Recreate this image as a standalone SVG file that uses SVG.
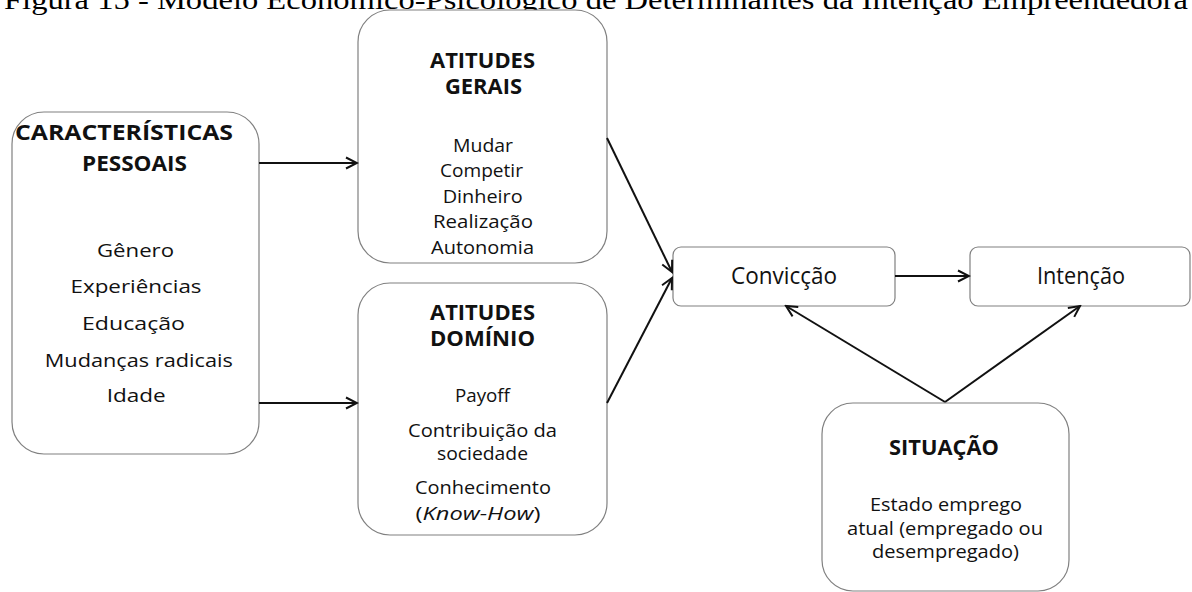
<svg xmlns="http://www.w3.org/2000/svg" width="1192" height="592" viewBox="0 0 1192 592">
  <defs>
    <style>
      .box { fill: #ffffff; stroke: #808080; stroke-width: 1.2; }
      .t { font-family: "Open Sans", "Liberation Sans", sans-serif; fill: #111111; text-anchor: middle; }
      .h { font-weight: bold; font-size: 20.5px; }
      .i { font-size: 19px; }
      .m { font-size: 23px; }
      .edge { stroke: #111111; stroke-width: 2; fill: none; marker-end: url(#arr); }
      .title { font-family: "Liberation Serif", "Times New Roman", serif; font-size: 27px; fill: #000; }
    </style>
    <marker id="arr" markerUnits="userSpaceOnUse" markerWidth="14" markerHeight="14" viewBox="0 0 14 14" refX="12" refY="7" orient="auto">
      <path d="M1,1.5 L12,7 L1,12.5" fill="none" stroke="#111111" stroke-width="2"/>
    </marker>
  </defs>
  <rect width="1192" height="592" fill="#ffffff"/>

  <text class="title" x="4" y="9" textLength="1184" lengthAdjust="spacingAndGlyphs">Figura 15 - Modelo Econômico-Psicológico de Determinantes da Intenção Empreendedora</text>

  <g id="caracteristicas">
    <rect class="box" x="12" y="112" width="247" height="342" rx="32"/>
    <text class="t h" x="124" y="140" textLength="218" lengthAdjust="spacingAndGlyphs">CARACTERÍSTICAS</text>
    <text class="t h" x="134.5" y="170.5" textLength="105" lengthAdjust="spacingAndGlyphs">PESSOAIS</text>
    <text class="t i" x="135.5" y="257.3" textLength="77" lengthAdjust="spacingAndGlyphs">Gênero</text>
    <text class="t i" x="136" y="293.3" textLength="131" lengthAdjust="spacingAndGlyphs">Experiências</text>
    <text class="t i" x="133.5" y="330" textLength="103" lengthAdjust="spacingAndGlyphs">Educação</text>
    <text class="t i" x="138.8" y="366.7" textLength="188" lengthAdjust="spacingAndGlyphs">Mudanças radicais</text>
    <text class="t i" x="136.2" y="401.7" textLength="59" lengthAdjust="spacingAndGlyphs">Idade</text>
  </g>

  <g id="atitudes-gerais">
    <rect class="box" x="358" y="10" width="249" height="253" rx="32"/>
    <text class="t h" x="482.5" y="68.3" textLength="105" lengthAdjust="spacingAndGlyphs">ATITUDES</text>
    <text class="t h" x="483.5" y="94.3" textLength="77" lengthAdjust="spacingAndGlyphs">GERAIS</text>
    <text class="t i" x="483" y="151.5" textLength="60" lengthAdjust="spacingAndGlyphs">Mudar</text>
    <text class="t i" x="481.5" y="177" textLength="83" lengthAdjust="spacingAndGlyphs">Competir</text>
    <text class="t i" x="482.7" y="202.5" textLength="80" lengthAdjust="spacingAndGlyphs">Dinheiro</text>
    <text class="t i" x="483" y="228" textLength="100" lengthAdjust="spacingAndGlyphs">Realização</text>
    <text class="t i" x="482.5" y="254" textLength="103" lengthAdjust="spacingAndGlyphs">Autonomia</text>
  </g>

  <g id="atitudes-dominio">
    <rect class="box" x="358" y="283" width="249" height="252" rx="32"/>
    <text class="t h" x="482.5" y="320" textLength="105" lengthAdjust="spacingAndGlyphs">ATITUDES</text>
    <text class="t h" x="482.5" y="346" textLength="105" lengthAdjust="spacingAndGlyphs">DOMÍNIO</text>
    <text class="t i" x="482.5" y="401.7" textLength="55" lengthAdjust="spacingAndGlyphs">Payoff</text>
    <text class="t i" x="482.5" y="436.7" textLength="149" lengthAdjust="spacingAndGlyphs">Contribuição da</text>
    <text class="t i" x="482.5" y="460" textLength="91" lengthAdjust="spacingAndGlyphs">sociedade</text>
    <text class="t i" x="483" y="493.5" textLength="136" lengthAdjust="spacingAndGlyphs">Conhecimento</text>
    <text class="t i" x="478" y="520" textLength="125" lengthAdjust="spacingAndGlyphs">(<tspan font-style="italic">Know-How</tspan>)</text>
  </g>

  <g id="conviccao">
    <rect class="box" x="673" y="247" width="222" height="59" rx="8"/>
    <text class="t m" x="784" y="284.3" textLength="106" lengthAdjust="spacingAndGlyphs">Convicção</text>
  </g>

  <g id="intencao">
    <rect class="box" x="970" y="247" width="220" height="59" rx="8"/>
    <text class="t m" x="1081" y="284.3" textLength="88" lengthAdjust="spacingAndGlyphs">Intenção</text>
  </g>

  <g id="situacao">
    <rect class="box" x="822" y="403" width="247" height="188" rx="31"/>
    <text class="t h" x="944" y="455" textLength="110" lengthAdjust="spacingAndGlyphs">SITUAÇÃO</text>
    <text class="t i" x="946" y="510.5" textLength="152" lengthAdjust="spacingAndGlyphs">Estado emprego</text>
    <text class="t i" x="945" y="535" textLength="196" lengthAdjust="spacingAndGlyphs">atual (empregado ou</text>
    <text class="t i" x="945.5" y="558" textLength="147" lengthAdjust="spacingAndGlyphs">desempregado)</text>
  </g>

  <g id="connectors">
    <line class="edge" x1="259" y1="163" x2="357" y2="163"/>
    <line class="edge" x1="259" y1="403" x2="357" y2="403"/>
    <line class="edge" x1="607" y1="138" x2="672" y2="272"/>
    <line class="edge" x1="607" y1="403" x2="672" y2="278"/>
    <line class="edge" x1="895" y1="276" x2="969" y2="276"/>
    <line class="edge" x1="945" y1="402" x2="786" y2="306"/>
    <line class="edge" x1="945" y1="402" x2="1080" y2="306"/>
  </g>
</svg>
